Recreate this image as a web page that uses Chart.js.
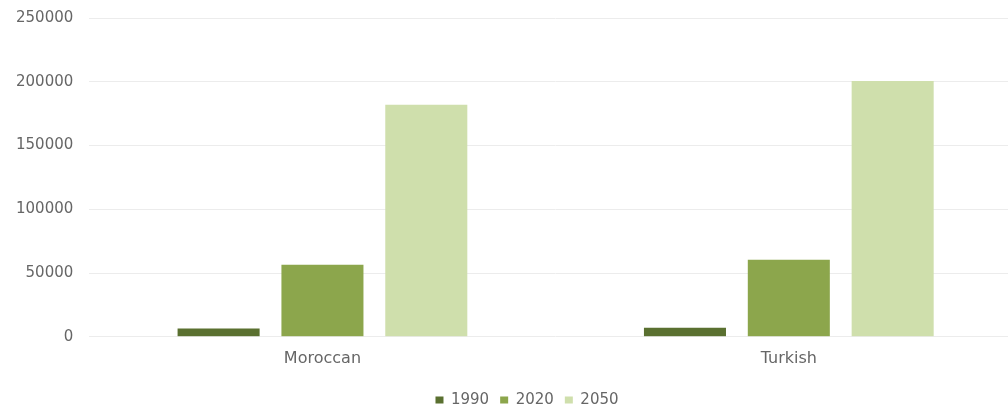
<!DOCTYPE html>
<html>
<head>
<meta charset="utf-8">
<style>
html,body{margin:0;padding:0;background:#fff;overflow:hidden;}
#wrap{width:1022px;height:409px;position:relative;}
</style>
<script src="https://cdn.jsdelivr.net/npm/chart.js@4.4.1/dist/chart.umd.min.js"></script>
</head>
<body>
<div id="wrap"><canvas id="c"></canvas></div>
<script>
const categories = ["Moroccan", "Turkish"];
const seriesLabels = ["1990", "2020", "2050"];
const values1990 = [6500, 7000];
const values2020 = [56500, 60500];
const values2050 = [182000, 200500];
const yTicks = [0, 50000, 100000, 150000, 200000, 250000];

const colors = ["#5a7030", "#8ca64c", "#cfdfac"];
const FONT = 'DejaVu Sans, Liberation Sans, Arial';

const legendShift = {
  id: 'legendShift',
  afterLayout(chart) {
    const lg = chart.legend;
    if (!lg) return;
    const h = lg.bottom - lg.top;
    lg.top = 400 - 18.5;
    lg.bottom = lg.top + h;
    lg.left += 16;
    lg.right += 16;
  }
};

new Chart(document.getElementById('c'), {
  type: 'bar',
  data: {
    labels: categories,
    datasets: [
      {label: seriesLabels[0], data: values1990, backgroundColor: colors[0]},
      {label: seriesLabels[1], data: values2020, backgroundColor: colors[1]},
      {label: seriesLabels[2], data: values2050, backgroundColor: colors[2]}
    ]
  },
  plugins: [legendShift],
  options: {
    responsive: true,
    maintainAspectRatio: false,
    animation: false,
    categoryPercentage: 0.668,
    barPercentage: 0.79,
    layout: {padding: {top: 1, left: 0, right: 0, bottom: 1}},
    plugins: {
      legend: {
        position: 'bottom',
        labels: {
          boxWidth: 8, boxHeight: 7, padding: 11,
          color: '#666', font: {family: FONT, size: 15}
        }
      },
      tooltip: {enabled: false}
    },
    scales: {
      x: {
        grid: {display: false},
        border: {display: false},
        ticks: {color: '#666', font: {family: FONT, size: 16}, padding: 4}
      },
      y: {
        min: 0, max: 250000,
        afterBuildTicks: (axis) => { axis.ticks = yTicks.map(v => ({value: v})); },
        afterFit: (scale) => { scale.paddingTop = 18; },
        grid: {color: '#ececec', drawTicks: false},
        border: {display: false},
        ticks: {color: '#666', font: {family: FONT, size: 15}, padding: 16, callback: v => String(v)}
      }
    }
  }
});
</script>
</body>
</html>
